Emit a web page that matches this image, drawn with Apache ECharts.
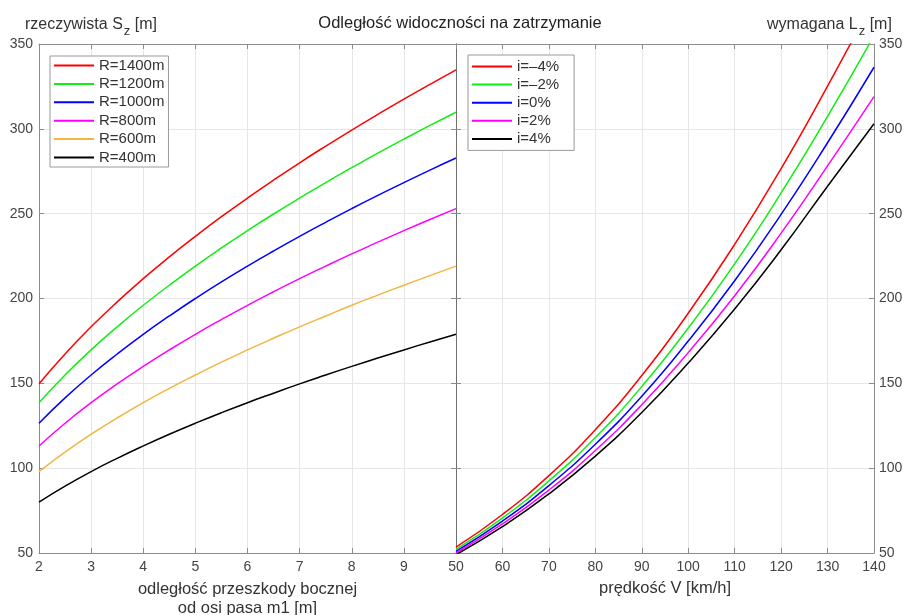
<!DOCTYPE html>
<html>
<head>
<meta charset="utf-8">
<script src="https://cdn.jsdelivr.net/npm/echarts@6/dist/echarts.min.js"></script>
<style>html,body{margin:0;padding:0;background:#fff;}#c{width:906px;height:615px;}</style>
</head>
<body>
<div id="c"></div>
<script>
// ---- data: left panel (actual sight distance S_z vs obstacle offset m1) ----
const offsets = [2, 2.5, 3, 3.5, 4, 4.5, 5, 5.5, 6, 6.5, 7, 7.5, 8, 8.5, 9, 9.5, 10];
const sR1400 = [149.7, 167.3, 183.3, 198.0, 211.7, 224.5, 236.6, 248.2, 259.2, 269.8, 280.0, 289.8, 299.3, 308.5, 317.5, 326.2, 334.7];
const sR1200 = [138.6, 154.9, 169.7, 183.3, 196.0, 207.8, 219.1, 229.8, 240.0, 249.8, 259.2, 268.3, 277.1, 285.7, 293.9, 302.0, 309.8];
const sR1000 = [126.5, 141.4, 154.9, 167.3, 178.9, 189.7, 200.0, 209.8, 219.1, 228.0, 236.6, 244.9, 253.0, 260.8, 268.3, 275.7, 282.8];
const sR800  = [113.1, 126.5, 138.6, 149.7, 160.0, 169.7, 178.9, 187.6, 196.0, 204.0, 211.7, 219.1, 226.3, 233.2, 240.0, 246.6, 253.0];
const sR600  = [98.0, 109.5, 120.0, 129.6, 138.6, 147.0, 154.9, 162.5, 169.7, 176.6, 183.3, 189.7, 196.0, 202.0, 207.8, 213.5, 219.1];
const sR400  = [80.0, 89.4, 98.0, 105.8, 113.1, 120.0, 126.5, 132.7, 138.6, 144.2, 149.7, 154.9, 160.0, 164.9, 169.7, 174.4, 178.9];
const leftNames = ['R=1400m', 'R=1200m', 'R=1000m', 'R=800m', 'R=600m', 'R=400m'];

// ---- data: right panel (required stopping distance L_z vs speed V) ----
const speeds = [50, 60, 70, 80, 90, 100, 110, 120, 130, 140];
const lzM4 = [53.4, 72.7, 95.6, 122.7, 154.6, 191.3, 231.9, 276.6, 325.2, 376.3];
const lzM2 = [52.1, 70.6, 92.5, 118.1, 148.1, 182.6, 220.4, 262.2, 307.3, 354.9];
const lz0  = [51.0, 68.8, 89.7, 114.1, 142.4, 174.9, 210.5, 249.6, 291.8, 336.3];
const lzP2 = [50.0, 67.1, 87.1, 110.4, 137.4, 168.1, 201.6, 238.5, 278.2, 319.0];
const lzP4 = [49.0, 65.5, 84.8, 107.1, 132.8, 162.0, 193.8, 228.7, 266.2, 303.0];
const rightNames = ['i=–4%', 'i=–2%', 'i=0%', 'i=2%', 'i=4%'];

// ---- axis ticks ----
const yTicks = { min: 50, max: 350, interval: 50 };
const leftX = { min: 2, max: 10, interval: 1 };
const rightX = { min: 50, max: 140, interval: 10 };

const colorsLeft = ['#ff0000', '#11ee11', '#0000ff', '#ff00ff', '#f2b540', '#000000'];
const colorsRight = ['#ff0000', '#11ee11', '#0000ff', '#ff00ff', '#000000'];

const FONT = 'Liberation Sans, Arial, sans-serif';
const AX = '#8c8c8c';
const LBL = '#454545';

function baseAxis(extra) {
  return Object.assign({
    type: 'value',
    axisLine: { show: true, lineStyle: { color: AX, width: 1 } },
    axisTick: { show: true, inside: true, length: 5, lineStyle: { color: AX } },
    axisLabel: { show: false },
    splitLine: { show: false }
  }, extra);
}
const labelStyle = { color: LBL, fontSize: 14, fontFamily: FONT };
const grid = { lineStyle: { color: '#e6e6e6', width: 1 } };

const leftSets = [sR1400, sR1200, sR1000, sR800, sR600, sR400];
const rightSets = [lzM4, lzM2, lz0, lzP2, lzP4];

const series = [];
leftSets.forEach((arr, k) => {
  series.push({
    name: leftNames[k], type: 'line', xAxisIndex: 0, yAxisIndex: 0,
    data: offsets.map((m, i) => [m, arr[i]]),
    showSymbol: false, smooth: true, lineStyle: { width: 1.5, color: colorsLeft[k] },
    itemStyle: { color: colorsLeft[k] }
  });
});
rightSets.forEach((arr, k) => {
  series.push({
    name: rightNames[k], type: 'line', xAxisIndex: 2, yAxisIndex: 2,
    data: speeds.map((v, i) => [v, arr[i]]),
    showSymbol: false, smooth: true, lineStyle: { width: 1.5, color: colorsRight[k] },
    itemStyle: { color: colorsRight[k] }
  });
});

const richName = {
  t: { fontSize: 16, fontWeight: 'normal', fontFamily: FONT, color: '#333' },
  s: { fontSize: 13, fontWeight: 'normal', fontFamily: FONT, color: '#333', padding: [13, 0, 0, 1] }
};

const legendCommon = {
  orient: 'vertical', icon: 'rect', itemWidth: 40, itemHeight: 2,
  backgroundColor: '#fff', borderColor: '#999', borderWidth: 1,
  textStyle: { color: '#333', fontSize: 15, fontFamily: FONT, lineHeight: 15 },
  selectedMode: false
};

const option = {
  animation: false,
  backgroundColor: '#fff',
  title: [
    { text: 'Odległość widoczności na zatrzymanie', left: 455, top: 10, textAlign: 'center',
      textStyle: { fontSize: 16.5, fontWeight: 'normal', color: '#222', fontFamily: FONT } },
    { text: '{t|rzeczywista S}{s|z}{t| [m]}', left: 20, top: 7,
      textStyle: { fontWeight: 'normal', rich: richName } },
    { text: '{t|wymagana L}{s|z}{t| [m]}', left: 762, top: 7,
      textStyle: { fontWeight: 'normal', rich: richName } }
  ],
  legend: [
    Object.assign({}, legendCommon, { data: leftNames, left: 50, top: 56, itemGap: 3.4, padding: [2, 4, 2, 4] }),
    Object.assign({}, legendCommon, { data: rightNames, left: 468, top: 55, itemGap: 3.1, padding: [4, 15, 4, 4] })
  ],
  grid: [
    { left: 39, top: 44, width: 417, height: 509, containLabel: false, outerBoundsMode: 'none' },
    { left: 456, top: 44, width: 418, height: 509, containLabel: false, outerBoundsMode: 'none' }
  ],
  xAxis: [
    baseAxis(Object.assign({ gridIndex: 0, position: 'bottom',
      axisLabel: { show: true, margin: 7, formatter: v => (v === 10 ? '' : v), ...labelStyle },
      splitLine: Object.assign({ show: true }, grid),
      name: 'odległość przeszkody bocznej\nod osi pasa m1 [m]', nameLocation: 'middle', nameGap: 27,
      nameTextStyle: { fontSize: 16.5, color: '#333', fontFamily: FONT, lineHeight: 19 } }, leftX)),
    baseAxis(Object.assign({ gridIndex: 0, position: 'top' }, leftX)),
    baseAxis(Object.assign({ gridIndex: 1, position: 'bottom',
      axisLabel: { show: true, margin: 7, ...labelStyle },
      splitLine: Object.assign({ show: true }, grid),
      name: 'prędkość V [km/h]', nameLocation: 'middle', nameGap: 25,
      nameTextStyle: { fontSize: 16.5, color: '#333', fontFamily: FONT, lineHeight: 19 } }, rightX)),
    baseAxis(Object.assign({ gridIndex: 1, position: 'top' }, rightX))
  ],
  yAxis: [
    baseAxis(Object.assign({ gridIndex: 0, position: 'left',
      axisLabel: { show: true, margin: 6, ...labelStyle },
      splitLine: Object.assign({ show: true }, grid) }, yTicks)),
    baseAxis(Object.assign({ gridIndex: 0, position: 'right',
      axisLine: { show: true, lineStyle: { color: '#6e6e6e', width: 1 } } }, yTicks)),
    baseAxis(Object.assign({ gridIndex: 1, position: 'right',
      axisLabel: { show: true, margin: 5, ...labelStyle },
      splitLine: Object.assign({ show: true }, grid) }, yTicks)),
    baseAxis(Object.assign({ gridIndex: 1, position: 'left',
      axisLine: { show: true, lineStyle: { color: '#6e6e6e', width: 1 } } }, yTicks))
  ],
  series: series
};

const chart = echarts.init(document.getElementById('c'), null, { renderer: 'canvas' });
chart.setOption(option);
</script>
</body>
</html>
